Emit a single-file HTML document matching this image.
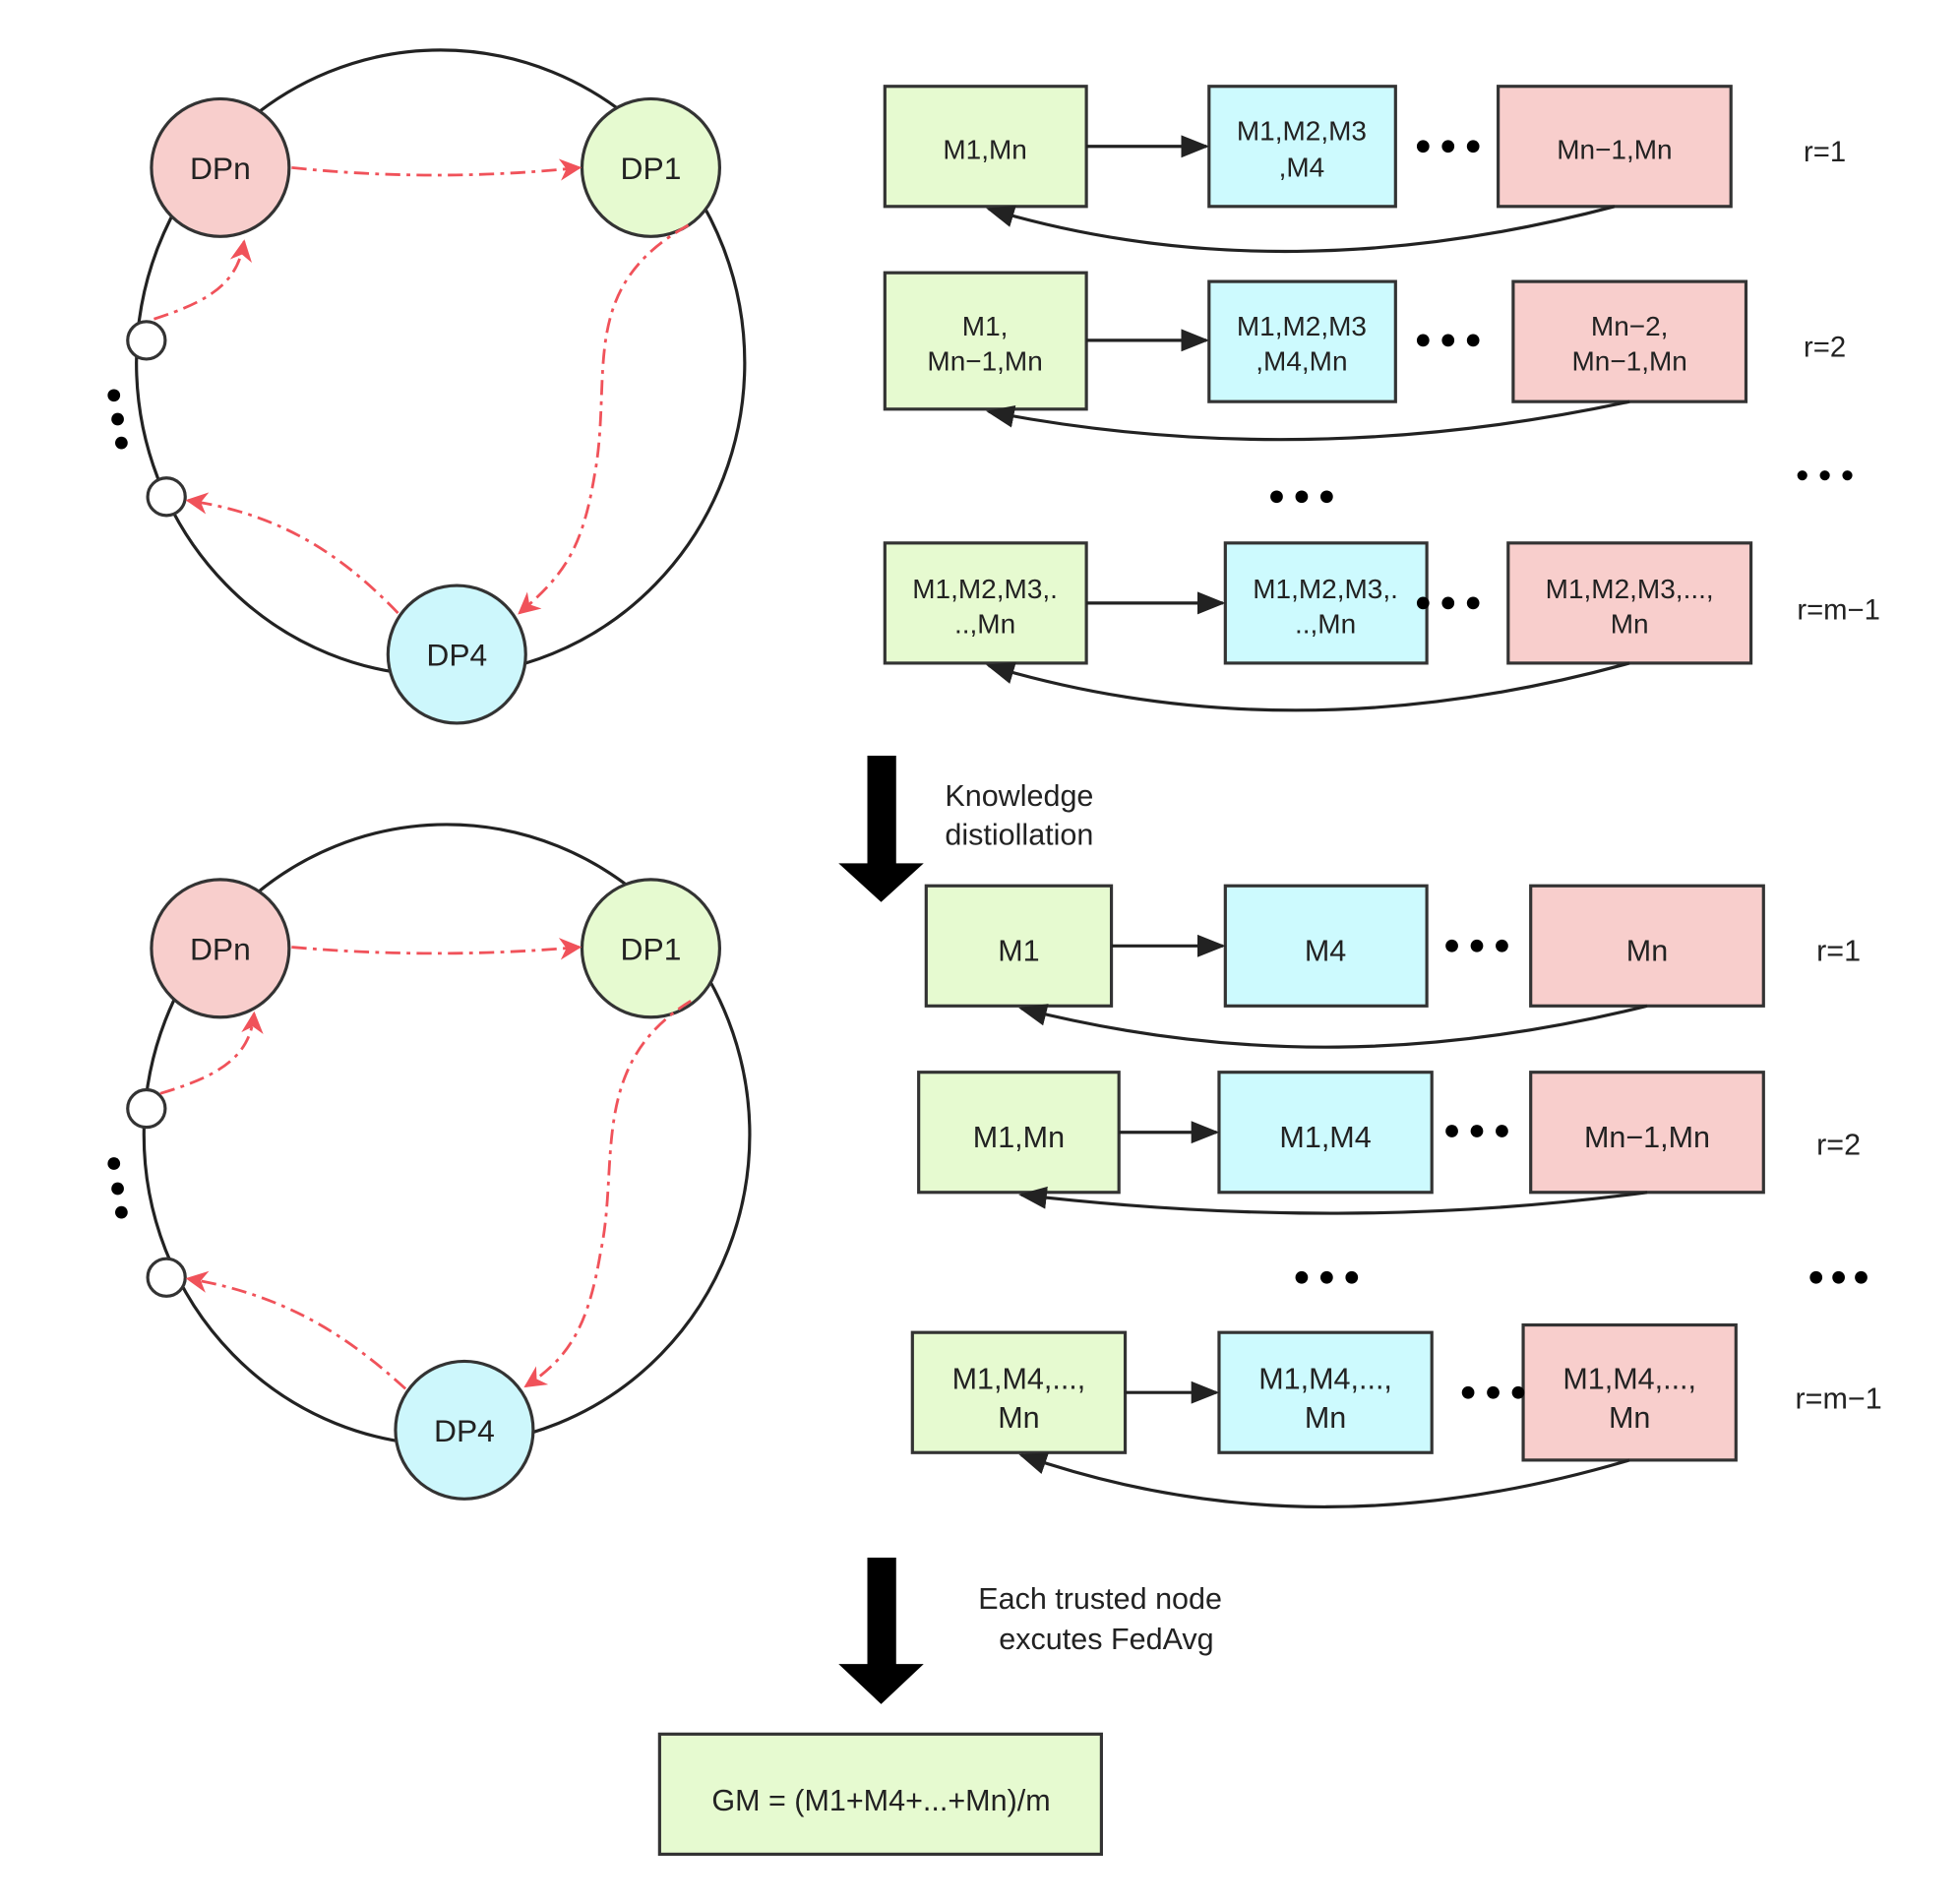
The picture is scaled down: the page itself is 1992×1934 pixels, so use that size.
<!DOCTYPE html>
<html><head><meta charset="utf-8"><style>
html,body{margin:0;padding:0;background:#fff}
svg{display:block}
text{font-family:"Liberation Sans",sans-serif;fill:#222}
</style></head><body>
<svg width="1992" height="1934" viewBox="0 0 1566 1521" preserveAspectRatio="none" xmlns="http://www.w3.org/2000/svg">
<defs>
<marker id="ra" viewBox="0 0 10 10" refX="9" refY="5" markerWidth="8" markerHeight="8" orient="auto"><path d="M0,0L10,5L0,10L3,5z" fill="#f0525a"/></marker>
<marker id="ba" viewBox="0 0 10 10" refX="9" refY="5" markerWidth="9" markerHeight="9" orient="auto"><path d="M0,1L10,5L0,9z" fill="#222"/></marker>
</defs>
<g fill="none" stroke="#222" stroke-width="2.5">
<ellipse cx="352" cy="290" rx="243" ry="250"/>
<ellipse cx="357" cy="907" rx="242" ry="248"/>
</g>
<g stroke="#333" stroke-width="2.5">
<circle cx="176" cy="134" r="55" fill="#f8cecc"/>
<circle cx="520" cy="134" r="55" fill="#e6fad0"/>
<circle cx="365" cy="523" r="55" fill="#cdf7fc"/>
<circle cx="117" cy="272" r="15" fill="#fff"/>
<circle cx="133" cy="397" r="15" fill="#fff"/>
<circle cx="176" cy="758" r="55" fill="#f8cecc"/>
<circle cx="520" cy="758" r="55" fill="#e6fad0"/>
<circle cx="371" cy="1143" r="55" fill="#cdf7fc"/>
<circle cx="117" cy="886" r="15" fill="#fff"/>
<circle cx="133" cy="1021" r="15" fill="#fff"/>
</g>
<g fill="#000">
<circle cx="91" cy="316" r="5"/><circle cx="94" cy="335" r="5"/><circle cx="97" cy="354" r="5"/>
<circle cx="91" cy="930" r="5"/><circle cx="94" cy="950" r="5"/><circle cx="97" cy="969" r="5"/>
</g>
<g fill="none" stroke="#f0525a" stroke-width="2.2" stroke-dasharray="12,5,3,5" marker-end="url(#ra)">
<path d="M233,134 Q348,146 463,134"/>
<path d="M550,180 C460,230 490,300 475,380 C465,440 450,460 415,490"/>
<path d="M123,255 C170,240 190,225 195,193"/>
<path d="M318,490 C270,440 220,410 150,400"/>
<path d="M233,757 Q348,767 463,757"/>
<path d="M552,800 C470,850 495,930 480,1000 C470,1060 455,1085 420,1108"/>
<path d="M128,874 C175,860 200,845 203,810"/>
<path d="M324,1110 C280,1070 230,1035 150,1022"/>
</g>
<g stroke="#333" stroke-width="2.5">
<rect x="707" y="69" width="161" height="96" fill="#e6fad0"/>
<rect x="966" y="69" width="149" height="96" fill="#cdfafe"/>
<rect x="1197" y="69" width="186" height="96" fill="#f8cecc"/>
<rect x="707" y="218" width="161" height="109" fill="#e6fad0"/>
<rect x="966" y="225" width="149" height="96" fill="#cdfafe"/>
<rect x="1209" y="225" width="186" height="96" fill="#f8cecc"/>
<rect x="707" y="434" width="161" height="96" fill="#e6fad0"/>
<rect x="979" y="434" width="161" height="96" fill="#cdfafe"/>
<rect x="1205" y="434" width="194" height="96" fill="#f8cecc"/>
<rect x="740" y="708" width="148" height="96" fill="#e6fad0"/>
<rect x="979" y="708" width="161" height="96" fill="#cdfafe"/>
<rect x="1223" y="708" width="186" height="96" fill="#f8cecc"/>
<rect x="734" y="857" width="160" height="96" fill="#e6fad0"/>
<rect x="974" y="857" width="170" height="96" fill="#cdfafe"/>
<rect x="1223" y="857" width="186" height="96" fill="#f8cecc"/>
<rect x="729" y="1065" width="170" height="96" fill="#e6fad0"/>
<rect x="974" y="1065" width="170" height="96" fill="#cdfafe"/>
<rect x="1217" y="1059" width="170" height="108" fill="#f8cecc"/>
<rect x="527" y="1386" width="353" height="96" fill="#e6fad0"/>
</g>
<g fill="none" stroke="#222" stroke-width="2.5" marker-end="url(#ba)">
<path d="M868,117 H964"/><path d="M868,272 H964"/><path d="M868,482 H977"/>
<path d="M888,756 H977"/><path d="M894,905 H972"/><path d="M899,1113 H972"/>
<path d="M1290,165 C1120,210 950,215 790,167"/>
<path d="M1302,321 C1120,360 950,360 790,329"/>
<path d="M1302,530 C1120,580 950,580 790,532"/>
<path d="M1316,804 C1150,845 990,850 816,806"/>
<path d="M1316,953 C1150,975 990,975 816,955"/>
<path d="M1302,1167 C1140,1215 980,1220 816,1163"/>
</g>
<g fill="#000">
<circle cx="1137" cy="117" r="5"/><circle cx="1157" cy="117" r="5"/><circle cx="1177" cy="117" r="5"/>
<circle cx="1137" cy="272" r="5"/><circle cx="1157" cy="272" r="5"/><circle cx="1177" cy="272" r="5"/>
<circle cx="1137" cy="482" r="5"/><circle cx="1157" cy="482" r="5"/><circle cx="1177" cy="482" r="5"/>
<circle cx="1020" cy="397" r="5"/><circle cx="1040" cy="397" r="5"/><circle cx="1060" cy="397" r="5"/>
<circle cx="1440" cy="380" r="4"/><circle cx="1458" cy="380" r="4"/><circle cx="1476" cy="380" r="4"/>
<circle cx="1160" cy="756" r="5"/><circle cx="1180" cy="756" r="5"/><circle cx="1200" cy="756" r="5"/>
<circle cx="1160" cy="904" r="5"/><circle cx="1180" cy="904" r="5"/><circle cx="1200" cy="904" r="5"/>
<circle cx="1040" cy="1021" r="5"/><circle cx="1060" cy="1021" r="5"/><circle cx="1080" cy="1021" r="5"/>
<circle cx="1451" cy="1021" r="5"/><circle cx="1469" cy="1021" r="5"/><circle cx="1487" cy="1021" r="5"/>
<circle cx="1173" cy="1113" r="5"/><circle cx="1193" cy="1113" r="5"/><circle cx="1213" cy="1113" r="5"/>
<path d="M693,604H716V690H738L704,721L670,690H693Z"/>
<path d="M693,1245H716V1330H738L704,1362L670,1330H693Z"/>
</g>
<g font-size="25" text-anchor="middle">
<text x="176" y="143">DPn</text><text x="520" y="143">DP1</text><text x="365" y="532">DP4</text>
<text x="176" y="767">DPn</text><text x="520" y="767">DP1</text><text x="371" y="1152">DP4</text>
</g>
<g font-size="22" text-anchor="middle">
<text x="787" y="127">M1,Mn</text>
<text x="1040" y="112">M1,M2,M3</text><text x="1040" y="141">,M4</text>
<text x="1290" y="127">Mn−1,Mn</text>
<text x="787" y="268">M1,</text><text x="787" y="296">Mn−1,Mn</text>
<text x="1040" y="268">M1,M2,M3</text><text x="1040" y="296">,M4,Mn</text>
<text x="1302" y="268">Mn−2,</text><text x="1302" y="296">Mn−1,Mn</text>
<text x="787" y="478">M1,M2,M3,.</text><text x="787" y="506">..,Mn</text>
<text x="1059" y="478">M1,M2,M3,.</text><text x="1059" y="506">..,Mn</text>
<text x="1302" y="478">M1,M2,M3,...,</text><text x="1302" y="506">Mn</text>
</g>
<g font-size="23" text-anchor="middle">
<text x="1458" y="129">r=1</text><text x="1458" y="285">r=2</text><text x="1469" y="495">r=m−1</text>
</g>
<g font-size="24" text-anchor="middle">
<text x="814" y="768">M1</text><text x="1059" y="768">M4</text><text x="1316" y="768">Mn</text>
<text x="814" y="917">M1,Mn</text><text x="1059" y="917">M1,M4</text><text x="1316" y="917">Mn−1,Mn</text>
<text x="814" y="1110">M1,M4,...,</text><text x="814" y="1141">Mn</text>
<text x="1059" y="1110">M1,M4,...,</text><text x="1059" y="1141">Mn</text>
<text x="1302" y="1110">M1,M4,...,</text><text x="1302" y="1141">Mn</text>
<text x="1469" y="768">r=1</text><text x="1469" y="923">r=2</text><text x="1469" y="1126">r=m−1</text>
<text x="704" y="1447">GM = (M1+M4+...+Mn)/m</text>
</g>
<g font-size="24">
<text x="755" y="644">Knowledge</text><text x="755" y="675">distiollation</text>
<text x="879" y="1286" text-anchor="middle">Each trusted node</text>
<text x="884" y="1318" text-anchor="middle">excutes FedAvg</text>
</g>
</svg>
</body></html>
